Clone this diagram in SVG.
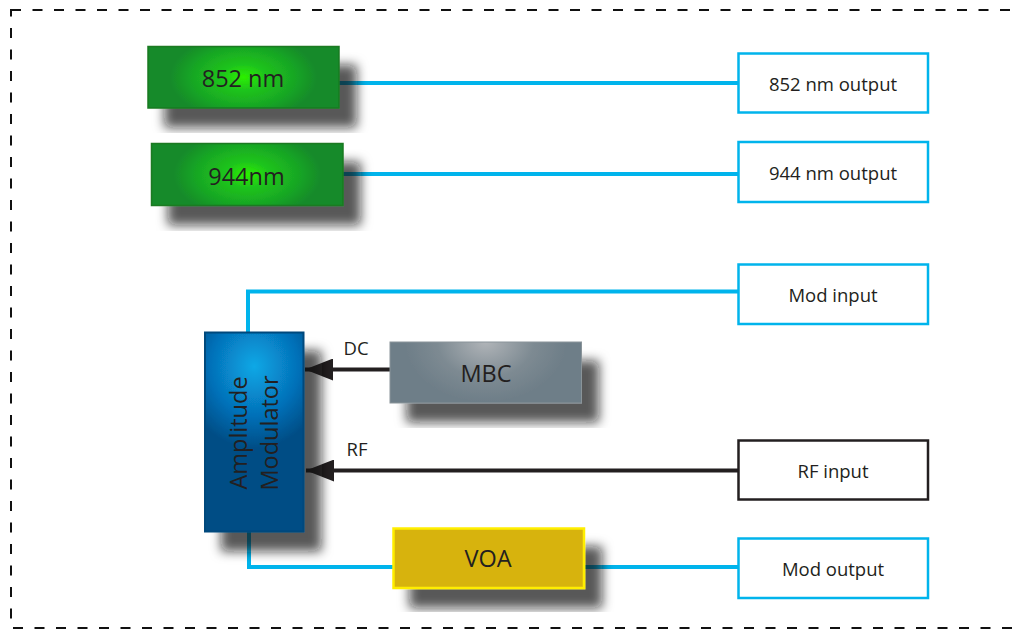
<svg xmlns="http://www.w3.org/2000/svg" width="1014" height="630" viewBox="0 0 1014 630">
<defs>
<filter id="sh" x="-20%" y="-20%" width="150%" height="160%">
<feDropShadow dx="17" dy="19" stdDeviation="5.5" flood-color="#111" flood-opacity="0.7"/>
</filter>
<radialGradient id="gGreen" cx="0.5" cy="0.5" r="0.7" gradientTransform="translate(0.5 0.5) scale(0.55 1) translate(-0.5 -0.5)">
<stop offset="0" stop-color="#2cf000"/>
<stop offset="0.3" stop-color="#1ec41c"/>
<stop offset="0.7" stop-color="#18a624"/>
<stop offset="1" stop-color="#168a2a"/>
</radialGradient>
<radialGradient id="gBlue" cx="0.5" cy="0.17" r="0.75" gradientTransform="translate(0.5 0.17) scale(1 0.55) translate(-0.5 -0.17)">
<stop offset="0" stop-color="#0aa8e6"/>
<stop offset="0.6" stop-color="#0570b8"/>
<stop offset="1" stop-color="#004d85"/>
</radialGradient>
<radialGradient id="gGray" cx="0.5" cy="0" r="0.7" gradientTransform="translate(0.5 0) scale(0.6 1.4) translate(-0.5 0)">
<stop offset="0" stop-color="#b0b4b8"/>
<stop offset="0.6" stop-color="#7d8a92"/>
<stop offset="1" stop-color="#6e7e88"/>
</radialGradient>
<marker id="arr" markerUnits="userSpaceOnUse" markerWidth="30" markerHeight="22" refX="28" refY="11" orient="auto">
<path d="M0,0 L28,11 L0,22 Z" fill="#231f20"/>
</marker>
<style>
.t{font-family:"Open Sans","Liberation Sans",sans-serif;fill:#231f20;text-anchor:middle}
.big{font-size:23.5px}
.mid{font-size:18.5px}
.fib{fill:none;stroke:#00b4ec;stroke-width:4}
.blk{fill:none;stroke:#231f20;stroke-width:4}
.out{fill:#fff;stroke:#00b4ec;stroke-width:2.5}
.grn{fill:url(#gGreen);stroke:#1a7a22;stroke-width:1.5}
</style>
</defs>
<rect x="11" y="10" width="1030" height="618" fill="none" stroke="#111" stroke-width="2" stroke-dasharray="10 11.5"/>
<g id="connectors">
<line class="fib" x1="339" y1="83" x2="738" y2="83"/>
<line class="fib" x1="343" y1="174" x2="738" y2="174"/>
<polyline class="fib" points="248,333 248,291.5 738,291.5"/>
<polyline class="fib" points="249,531 249,567 393,567"/>
<line class="fib" x1="584" y1="567" x2="738" y2="567"/>
<line class="blk" x1="390" y1="369.5" x2="305" y2="369.5" marker-end="url(#arr)"/>
<line class="blk" x1="738" y1="470.5" x2="306" y2="470.5" marker-end="url(#arr)"/>
<text class="t mid" x="356" y="355">DC</text>
<text class="t mid" x="357" y="456">RF</text>
</g>
<g id="n852">
<rect class="grn" x="148" y="46.5" width="191" height="61.5" filter="url(#sh)"/>
<text class="t big" x="243" y="87">852 nm</text>
</g>
<g id="n944">
<rect class="grn" x="151.5" y="143.5" width="191.5" height="62" filter="url(#sh)"/>
<text class="t big" x="246.5" y="185">944nm</text>
</g>
<g id="amod">
<rect x="205" y="332.5" width="98.5" height="199" fill="url(#gBlue)" stroke="#00497c" stroke-width="2" filter="url(#sh)"/>
<text class="t big" transform="translate(247 433) rotate(-90)">Amplitude</text>
<text class="t big" transform="translate(278 433) rotate(-90)">Modulator</text>
</g>
<g id="mbc">
<rect x="390" y="342" width="191.5" height="61" fill="url(#gGray)" stroke="#8a9499" stroke-width="1" filter="url(#sh)"/>
<text class="t big" x="486" y="382">MBC</text>
</g>
<g id="voa">
<rect x="393.5" y="528.5" width="190.5" height="59.5" fill="#d7b30b" stroke="#ffee00" stroke-width="2.5" filter="url(#sh)"/>
<text class="t big" x="488" y="567">VOA</text>
</g>
<g id="o852">
<rect class="out" x="738.5" y="53.5" width="189.5" height="59"/>
<text class="t mid" x="833" y="91">852 nm output</text>
</g>
<g id="o944">
<rect class="out" x="738.5" y="142" width="189.5" height="60"/>
<text class="t mid" x="833" y="180">944 nm output</text>
</g>
<g id="modin">
<rect class="out" x="738.5" y="264.5" width="189.5" height="59.5"/>
<text class="t mid" x="833" y="302">Mod input</text>
</g>
<g id="rfin">
<rect x="738.5" y="440.5" width="189.5" height="59" fill="#fff" stroke="#231f20" stroke-width="2.5"/>
<text class="t mid" x="833" y="478">RF input</text>
</g>
<g id="modout">
<rect class="out" x="738.5" y="538.5" width="189.5" height="59.5"/>
<text class="t mid" x="833" y="576">Mod output</text>
</g>
</svg>
